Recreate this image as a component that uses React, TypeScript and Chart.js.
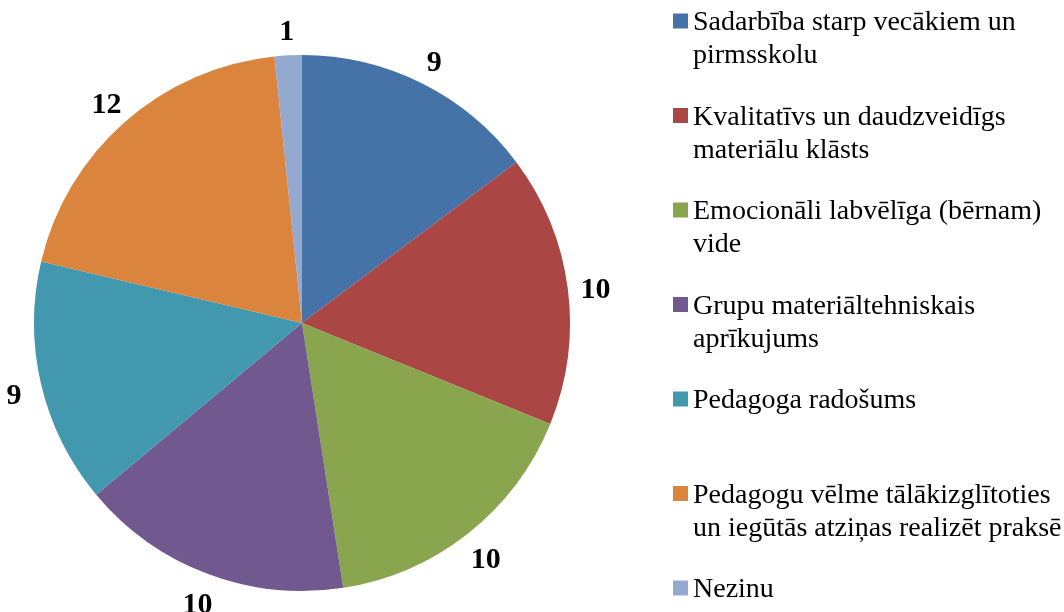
import React, { useEffect, useRef } from "react";
import { Chart, registerables } from "chart.js";

Chart.register(...registerables);

const categories: string[][] = [
  ["Sadarbība starp vecākiem un", "pirmsskolu"],
  ["Kvalitatīvs un daudzveidīgs", "materiālu klāsts"],
  ["Emocionāli labvēlīga (bērnam)", "vide"],
  ["Grupu materiāltehniskais", "aprīkujums"],
  ["Pedagoga radošums"],
  ["Pedagogu vēlme tālākizglītoties", "un iegūtās atziņas realizēt praksē"],
  ["Nezinu"],
];

const values: number[] = [9, 10, 10, 10, 9, 12, 1];

const colors: string[] = [
  "#4572A7",
  "#AA4643",
  "#89A54E",
  "#71588F",
  "#4198AF",
  "#DB843D",
  "#93A9CF",
];

const SERIF = '"Liberation Serif", "Times New Roman", serif';

const overlayPlugin = {
  id: "overlay",
  afterDraw(chart: any) {
    const ctx = chart.ctx as CanvasRenderingContext2D;
    const meta = chart.getDatasetMeta(0);
    const ds = chart.data.datasets[0];
    ctx.save();
    // data labels
    ctx.font = `bold 30px ${SERIF}`;
    ctx.fillStyle = "#000";
    ctx.textAlign = "center";
    ctx.textBaseline = "middle";
    meta.data.forEach((arc: any, i: number) => {
      const mid = (arc.startAngle + arc.endAngle) / 2;
      const d = arc.outerRadius + 28;
      const x = arc.x + Math.cos(mid) * d;
      const y = arc.y + Math.sin(mid) * d;
      ctx.fillText(String(ds.data[i]), x, y + 5);
    });
    // legend
    ctx.font = `28px ${SERIF}`;
    ctx.textAlign = "left";
    ctx.textBaseline = "alphabetic";
    const labels = chart.data.labels as string[][];
    labels.forEach((lines: string[], i: number) => {
      const yc = 21 + i * 94.5;
      ctx.fillStyle = (ds.backgroundColor as string[])[i];
      ctx.fillRect(673, yc - 7.5, 15, 15);
      ctx.fillStyle = "#000";
      lines.forEach((ln, j) => {
        ctx.fillText(ln, 693, yc + 9 + j * 33);
      });
    });
    ctx.restore();
  },
};

export default function App() {
  const ref = useRef<HTMLCanvasElement | null>(null);
  useEffect(() => {
    document.body.style.margin = "0";
    const canvas = ref.current;
    if (!canvas) return;
    const chart = new Chart(canvas, {
      type: "pie",
      data: {
        labels: categories as any,
        datasets: [
          {
            data: values,
            backgroundColor: colors,
            borderWidth: 0,
          },
        ],
      },
      options: {
        responsive: false,
        animation: false,
        layout: { padding: { left: 34, right: 494, top: 55, bottom: 21 } },
        plugins: {
          legend: { display: false },
          tooltip: { enabled: false },
        },
      },
      plugins: [overlayPlugin],
    });
    return () => chart.destroy();
  }, []);
  return (
    <div style={{ width: 1064, height: 612, background: "#fff" }}>
      <canvas ref={ref} width={1064} height={612} style={{ display: "block" }} />
    </div>
  );
}
